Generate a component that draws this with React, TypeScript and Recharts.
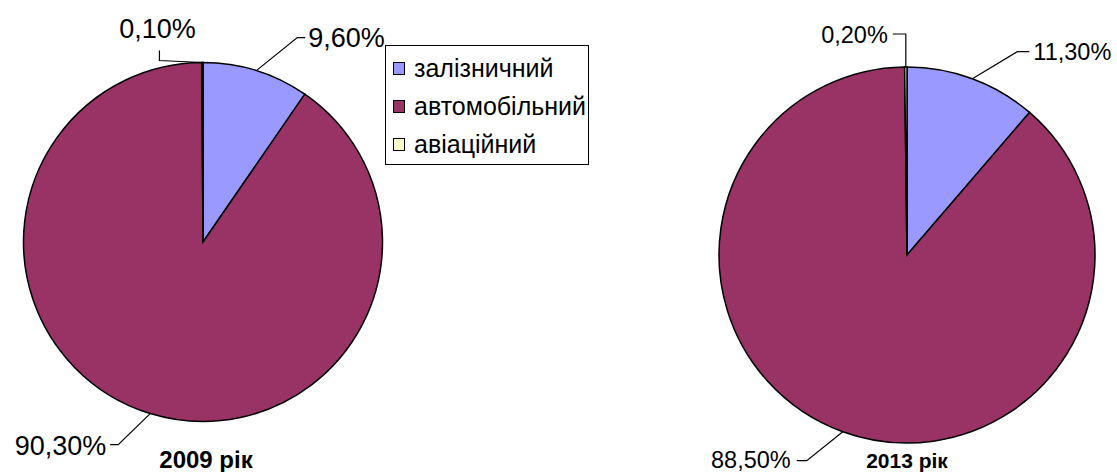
import { Cell, Legend, Pie, PieChart } from "recharts";

const categories = ["залізничний", "автомобільний", "авіаційний"];
const share2009 = [9.6, 90.3, 0.1];
const share2013 = [11.3, 88.5, 0.2];
const years = ["2009 рік", "2013 рік"];

const colors = ["#9999FF", "#993366", "#FFFFCC"];
const FONT = "'Liberation Sans', Arial, sans-serif";

// leader line bends (offsets from the slice edge point) and text placement
type Leader = { pts: number[][]; text: number[]; anchor: "start" | "end" | "middle" };
const leaders2009: Leader[] = [
  { pts: [[41, -33], [49, -33]], text: [52, -33], anchor: "start" },
  { pts: [[-32, 31], [-40, 31]], text: [-44, 32], anchor: "end" },
  { pts: [[-43, -2], [-43, -12]], text: [-45, -34], anchor: "middle" },
];
const leaders2013: Leader[] = [
  { pts: [[45, -27], [57, -27]], text: [61, -27], anchor: "start" },
  { pts: [[-36, 29], [-46, 29]], text: [-52, 28], anchor: "end" },
  { pts: [[0, -33], [-13, -33]], text: [-18, -32], anchor: "end" },
];

const toRows = (values: number[]) =>
  categories.map((name, i) => ({ name, value: values[i] }));

const fmt = (v: number) => v.toFixed(2).replace(".", ",") + "%";

const RAD = Math.PI / 180;

function makeLabel(leaders: Leader[], fontSize: number) {
  return (props: any) => {
    const { cx, cy, midAngle, outerRadius, index, value } = props;
    const ex = cx + outerRadius * Math.cos(-midAngle * RAD);
    const ey = cy + outerRadius * Math.sin(-midAngle * RAD);
    const l = leaders[index];
    const path = [[0, 0], ...l.pts]
      .map((p, i) => `${i ? "L" : "M"}${ex + p[0]},${ey + p[1]}`)
      .join(" ");
    return (
      <g key={`lbl-${index}`}>
        <path d={path} fill="none" stroke="#000" strokeWidth={1.2} />
        <text
          x={ex + l.text[0]}
          y={ey + l.text[1]}
          textAnchor={l.anchor}
          dominantBaseline="central"
          fontSize={fontSize}
          fontFamily={FONT}
          fill="#000"
        >
          {fmt(value)}
        </text>
      </g>
    );
  };
}

const renderLegend = () => (
  <div
    style={{
      width: 202,
      height: 118,
      border: "1.5px solid #000",
      background: "#fff",
      fontFamily: FONT,
      fontSize: 25,
    }}
  >
    {categories.map((c, i) => (
      <div
        key={c}
        style={{
          display: "flex",
          alignItems: "center",
          height: 38,
          marginTop: i === 0 ? 3 : 0,
          paddingLeft: 7,
          whiteSpace: "nowrap",
        }}
      >
        <span
          style={{
            display: "inline-block",
            width: 10,
            height: 11,
            border: "1.3px solid #000",
            background: colors[i],
            marginRight: 9,
          }}
        />
        {c}
      </div>
    ))}
  </div>
);

const titleStyle = {
  position: "absolute" as const,
  width: 200,
  textAlign: "center" as const,
  fontFamily: FONT,
  fontWeight: "bold" as const,
};

export default function App() {
  return (
    <div style={{ position: "absolute", left: 0, top: 0, width: 1117, height: 472, background: "#fff" }}>
      <PieChart width={1117} height={472} margin={{ top: 0, right: 0, bottom: 0, left: 0 }}>
        <Pie
          data={toRows(share2009)}
          dataKey="value"
          nameKey="name"
          cx={203}
          cy={242}
          outerRadius={179.5}
          startAngle={90}
          endAngle={-270}
          stroke="#000"
          strokeWidth={1.5}
          label={makeLabel(leaders2009, 27)}
          labelLine={false}
          isAnimationActive={false}
        >
          {share2009.map((_, i) => (
            <Cell key={i} fill={colors[i]} />
          ))}
        </Pie>
        <Pie
          data={toRows(share2013)}
          dataKey="value"
          nameKey="name"
          cx={907}
          cy={255}
          outerRadius={188}
          startAngle={90}
          endAngle={-270}
          stroke="#000"
          strokeWidth={1.5}
          label={makeLabel(leaders2013, 23.5)}
          labelLine={false}
          isAnimationActive={false}
        >
          {share2013.map((_, i) => (
            <Cell key={i} fill={colors[i]} />
          ))}
        </Pie>
        <Legend
          layout="vertical"
          align="right"
          verticalAlign="top"
          content={renderLegend}
          wrapperStyle={{ left: 385, top: 45, right: "auto", width: 205, height: 121 }}
        />
      </PieChart>
      <div style={{ ...titleStyle, left: 106, top: 447, fontSize: 24, lineHeight: "25px" }}>
        {years[0]}
      </div>
      <div style={{ ...titleStyle, left: 807, top: 450, fontSize: 21, lineHeight: "22px" }}>
        {years[1]}
      </div>
    </div>
  );
}
